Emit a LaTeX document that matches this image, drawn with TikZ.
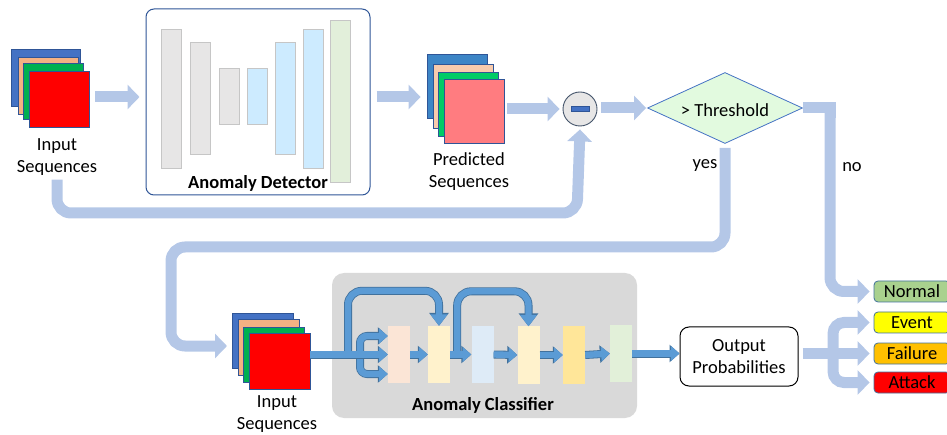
\documentclass[tikz,border=0pt]{standalone}
\usepackage{fontspec}
\setmainfont{Carlito}
\usetikzlibrary{arrows.meta,shapes.geometric}

% palette
\definecolor{flowblue}{HTML}{B4C7E7}
\definecolor{detline}{HTML}{2F5597}
\definecolor{graybar}{HTML}{E7E6E6}
\definecolor{barline}{HTML}{C6C6C6}
\definecolor{skybar}{HTML}{CDEBFF}
\definecolor{mintbar}{HTML}{E2EFDA}
\definecolor{stackline}{HTML}{2F5597}
\definecolor{inblue}{HTML}{4472C4}
\definecolor{inpeach}{HTML}{F4B183}
\definecolor{ingreen}{HTML}{00B050}
\definecolor{inred}{HTML}{FF0000}
\definecolor{prblue}{HTML}{3D85C6}
\definecolor{prpeach}{HTML}{F8CBAD}
\definecolor{prgreen}{HTML}{00CC66}
\definecolor{prsalmon}{HTML}{FF7C80}
\definecolor{diffill}{HTML}{E7E6E6}
\definecolor{difline}{HTML}{44546A}
\definecolor{thrfill}{HTML}{E2FADF}
\definecolor{thrline}{HTML}{4472C4}
\definecolor{clsgray}{HTML}{D9D9D9}
\definecolor{arrfill}{HTML}{5B9BD5}
\definecolor{arrline}{HTML}{41719C}
\definecolor{cnormal}{HTML}{A9D18E}
\definecolor{cevent}{HTML}{FFFF00}
\definecolor{cfailure}{HTML}{FFC000}
\definecolor{cattack}{HTML}{FF0000}
\definecolor{lpeach}{HTML}{FBE5D6}
\definecolor{lcream}{HTML}{FFF2CC}
\definecolor{lsky}{HTML}{DEEBF7}
\definecolor{lgold}{HTML}{FFE699}
\definecolor{lmint}{HTML}{E2F0D9}

\tikzset{
  sq/.style={rectangle, draw=stackline, line width=0.8pt, inner sep=0pt},
  layer/.style 2 args={rectangle, fill=#1, draw=#2, line width=0.8pt, inner sep=0pt, minimum width=20pt},
  clsbar/.style={rectangle, fill=#1, draw=none, inner sep=0pt, minimum width=22pt, minimum height=57pt},
  flow/.style={draw=flowblue, line width=11pt, -{Triangle[length=12pt 0 0, width=24pt 0 0]}},
  flowline/.style={draw=flowblue, line width=11pt},
  arrdark/.style={draw=arrline, line width=8pt, -{Triangle[length=10pt 0 0, width=17pt 0 0]}},
  arrlight/.style={draw=arrfill, line width=6.4pt, -{Triangle[length=8.6pt 0 0, width=14.4pt 0 0]}},
  bigdark/.style={arrdark, -{Triangle[length=13pt 0 0, width=19pt 0 0]}},
  biglight/.style={arrlight, -{Triangle[length=11.4pt 0 0, width=16.4pt 0 0]}},
  classbox/.style={rectangle, rounded corners=4pt, draw=arrline, line width=0.8pt, fill=#1,
                   minimum width=76pt, minimum height=21pt, inner sep=0pt},
  lbl/.style={align=center, inner sep=0pt},
  txt/.style={font=\fontsize{18.5}{22}\selectfont}
}
% outlined blue block arrow: dark pass, then light pass on the same path
\newcommand\blockarrow[2][]{%
  \draw[arrdark,#1] #2;
  \draw[arrlight,#1] #2;}
% same, with a larger head for the skip connections
\newcommand\skiparrow[2][]{%
  \draw[bigdark,#1] #2;
  \draw[biglight,#1] #2;}

\begin{document}
\begin{tikzpicture}[x=1pt, y=-1pt, txt]
\useasboundingbox (0,0) rectangle (947,435);
\clip (0,0) rectangle (947,435);

% ---------- input sequences (top) ----------
\node[sq, fill=inblue,  minimum width=69pt, minimum height=57pt] (inA) at (45.5,77.5) {};
\node[sq, fill=inpeach, minimum width=60pt, minimum height=57pt] (inB) at (48,85.5) {};
\node[sq, fill=ingreen, minimum width=60pt, minimum height=56pt] (inC) at (53,91) {};
\node[sq, fill=inred,   minimum width=60pt, minimum height=56pt] (inD) at (59,99) {};
\node[lbl] (inlab) at (57,157) {Input\\Sequences};

% ---------- anomaly detector ----------
\node[rectangle, rounded corners=8pt, draw=detline, line width=1pt, fill=white,
      minimum width=224pt, minimum height=186pt] (det) at (258,102) {};
\node[layer={graybar}{barline}, minimum height=139pt] (d1) at (171,98.5) {};
\node[layer={graybar}{barline}, minimum height=112pt] (d2) at (200,98) {};
\node[layer={graybar}{barline}, minimum height=56pt]  (d3) at (229,96) {};
\node[layer={skybar}{barline},  minimum height=56pt]  (d4) at (257,96) {};
\node[layer={skybar}{barline},  minimum height=112pt] (d5) at (285,98) {};
\node[layer={skybar}{barline},  minimum height=139pt] (d6) at (313,98.5) {};
\node[layer={mintbar}{barline}, minimum height=162pt] (d7) at (340.5,101) {};
\node[lbl, font=\fontsize{18.5}{22}\selectfont\bfseries] (detlab) at (258,183) {Anomaly Detector};

% ---------- predicted sequences ----------
\node[sq, fill=prblue,   minimum width=60pt, minimum height=64pt] (prA) at (457,86) {};
\node[sq, fill=prpeach,  minimum width=60pt, minimum height=64pt] (prB) at (463,96) {};
\node[sq, fill=prgreen,  minimum width=60pt, minimum height=64pt] (prC) at (468,104) {};
\node[sq, fill=prsalmon, minimum width=60pt, minimum height=64pt] (prD) at (474,111) {};
\node[lbl] (prlab) at (469,172) {Predicted\\Sequences};

% ---------- difference and threshold ----------
\node[circle, draw=difline, fill=diffill, line width=0.9pt, minimum size=34pt, inner sep=0pt] (diff) at (580,109) {};
\node[rectangle, fill=inblue, draw=stackline, line width=0.6pt, minimum width=18pt, minimum height=5pt, inner sep=0pt] (minus) at (diff) {};
\node[diamond, draw=thrline, fill=thrfill, line width=0.8pt, aspect=2.2, inner sep=0pt,
      minimum width=155pt, minimum height=71pt] (thr) at (725,108) {};
\node[lbl] (thrlab) at (725,110) {> Threshold};
\node[lbl] (yes) at (705,166) {yes};
\node[lbl] (no) at (852,167) {no};

% ---------- classes ----------
\node[classbox=cnormal]  (normal)  at (912,291.5) {Normal};
\node[classbox=cevent]   (event)   at (912,322.5) {Event};
\node[classbox=cfailure] (failure) at (912,353.5) {Failure};
\node[classbox=cattack]  (attack)  at (912,382.5) {Attack};

% ---------- input sequences (bottom) ----------
\node[sq, fill=inblue,  minimum width=61pt, minimum height=55pt] (lowA) at (262.5,340.5) {};
\node[sq, fill=inpeach, minimum width=61pt, minimum height=56pt] (lowB) at (268.5,347) {};
\node[sq, fill=ingreen, minimum width=61pt, minimum height=55pt] (lowC) at (273.5,354.5) {};
\node[sq, fill=inred,   minimum width=61pt, minimum height=56pt] (lowD) at (279.5,361) {};
\node[lbl] (lowlab) at (277,414) {Input\\Sequences};

% ---------- anomaly classifier ----------
\node[rectangle, rounded corners=12pt, fill=clsgray, minimum width=305pt, minimum height=145pt] (cls) at (484.5,345.5) {};
\node[clsbar=lpeach] (c1) at (399,354.5) {};
\node[clsbar=lcream] (c2) at (439,354.5) {};
\node[clsbar=lsky]   (c3) at (482.5,354.5) {};
\node[clsbar=lcream] (c4) at (528.5,355) {};
\node[clsbar=lgold]  (c5) at (574,355) {};
\node[clsbar=lmint]  (c6) at (621,353.5) {};
\node[lbl, font=\fontsize{18.5}{22}\selectfont\bfseries] (clslab) at (483,405) {Anomaly Classifier};

\node[rectangle, rounded corners=9pt, draw=black, line width=1pt, fill=white,
      minimum width=118pt, minimum height=59pt, align=center, inner sep=0pt] (out) at (739,356.5) {Output\\Probabilities};

% ---------- light flow arrows ----------
\draw[flow] ([xshift=6pt]inD.east |- 0,97) -- ([xshift=-6pt]det.west |- 0,97);
\draw[flow] ([xshift=6pt]det.east |- 0,97) -- ([xshift=-6pt]prA.west |- 0,97);
\draw[flow] ([xshift=3pt]prD.east |- diff.west) -- ([xshift=-3pt]diff.west);
\draw[flow] ([xshift=4pt]diff.east |- thr.west) -- ([xshift=-1pt]thr.west);

\coordinate (retcorner) at (577,213);
\draw[flow, rounded corners=14pt] ([yshift=-4pt]inlab.south) |- (retcorner) -- ([yshift=-3pt]diff.south);

\coordinate (yesturn) at (171,247);
\coordinate (yesend) at (227,346);
\draw[flow, rounded corners=14pt] ([yshift=-4pt]thr.south) |- (yesturn) |- (yesend);

\coordinate (nocorner) at (830,108);
\draw[flowline] (thr.east) -- (nocorner) -- ++(0,10);
\draw[flow, rounded corners=14pt] (nocorner) |- ([xshift=-4pt]normal.west);

\coordinate (fan) at (833,353.5);
\draw[flow] ([xshift=4pt]out.east |- failure.west) -- ([xshift=-4pt]failure.west);
\draw[flow, rounded corners=11pt] (fan) |- ([xshift=-4pt]event.west);
\draw[flow, rounded corners=11pt] (fan) |- ([xshift=-4pt]attack.west);

% ---------- blue arrows inside the classifier ----------
\coordinate (split) at (360,354.5);
\coordinate (skipA) at (348,354.5);
\skiparrow[rounded corners=14pt]{(skipA) |- ([yshift=35pt]c2.north) -- (c2.north)}
\skiparrow[rounded corners=14pt]{([xshift=7pt]c2.east) |- ([yshift=35pt]c4.north) -- (c4.north)}
\blockarrow[rounded corners=7pt]{(split) |- ([yshift=18.5pt]c1.west)}
\blockarrow[rounded corners=7pt]{(split) |- ([yshift=-19.5pt]c1.west)}
\blockarrow{(lowD.east |- c1.west) -- (c1.west)}
\blockarrow{(c1.east) -- (c2.west)}
\blockarrow{(c2.east) -- (c3.west)}
\blockarrow{(c3.east) -- (c4.west)}
\blockarrow{(c4.east) -- (c5.west)}
\blockarrow{(c5.east) -- (c6.west)}
\blockarrow{(c6.east) -- (out.west |- c6.east)}

\end{tikzpicture}
\end{document}
